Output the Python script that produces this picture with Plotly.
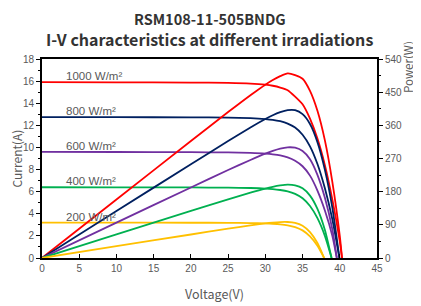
import plotly.graph_objects as go

irradiances = ["1000 W/m²", "800 W/m²", "600 W/m²", "400 W/m²", "200 W/m²"]
colors = ["#FF0000", "#002060", "#7030A0", "#00B050", "#FFC000"]

v_1000 = [0, 10, 20, 25, 28, 30, 31, 32, 33, 34, 35, 36, 37, 38, 39, 40, 40.3]
i_1000 = [15.9, 15.89, 15.87, 15.84, 15.78, 15.68, 15.58, 15.42, 15.18, 14.6, 13.9, 12.6, 10.8, 8.4, 5.3, 1.5, 0]
p_1000 = [0, 158.9, 317.4, 396, 441.8, 470.4, 483, 493.4, 500.9, 496.4, 486.5, 453.6, 399.6, 319.2, 206.7, 60, 0]

v_800 = [0, 10, 20, 25, 28, 30, 31, 32, 33, 34, 35, 36, 37, 38, 39, 39.95]
i_800 = [12.75, 12.74, 12.72, 12.7, 12.65, 12.57, 12.5, 12.37, 12.16, 11.8, 11.15, 10.1, 8.5, 6.3, 3.5, 0]
p_800 = [0, 127.4, 254.4, 317.5, 354.2, 377.1, 387.5, 395.8, 401.3, 401.2, 390.3, 363.6, 314.5, 239.4, 136.5, 0]

v_600 = [0, 10, 20, 25, 28, 30, 31, 32, 33, 34, 35, 36, 37, 38, 39, 39.6]
i_600 = [9.6, 9.59, 9.57, 9.55, 9.5, 9.44, 9.38, 9.28, 9.1, 8.8, 8.3, 7.45, 6.1, 4.3, 2.0, 0]
p_600 = [0, 95.9, 191.4, 238.8, 266, 283.2, 290.8, 297, 300.3, 299.2, 290.5, 268.2, 225.7, 163.4, 78, 0]

v_400 = [0, 10, 20, 25, 28, 30, 31, 32, 33, 34, 35, 36, 37, 38, 38.9]
i_400 = [6.4, 6.39, 6.38, 6.36, 6.33, 6.28, 6.23, 6.15, 6.03, 5.8, 5.4, 4.7, 3.6, 2.0, 0]
p_400 = [0, 63.9, 127.6, 159, 177.2, 188.4, 193.1, 196.8, 199, 197.2, 189, 169.2, 133.2, 76, 0]

v_200 = [0, 10, 20, 25, 28, 30, 31, 32, 33, 34, 35, 36, 37, 37.9]
i_200 = [3.2, 3.195, 3.19, 3.18, 3.16, 3.13, 3.1, 3.05, 2.96, 2.8, 2.5, 1.95, 1.1, 0]
p_200 = [0, 32, 63.8, 79.5, 88.5, 93.9, 96.1, 97.6, 97.7, 95.2, 87.5, 70.2, 40.7, 0]

series = [
    (v_1000, i_1000, p_1000),
    (v_800, i_800, p_800),
    (v_600, i_600, p_600),
    (v_400, i_400, p_400),
    (v_200, i_200, p_200),
]

x_ticks = list(range(0, 46, 5))
y_ticks = list(range(0, 19, 2))
p_ticks = list(range(0, 541, 90))

fig = go.Figure()
for (v, i, p), c, name in zip(series, colors, irradiances):
    fig.add_trace(go.Scatter(x=v, y=i, mode="lines", line=dict(color=c, width=1.8, shape="spline", smoothing=0.6),
                             name=name, showlegend=False))
    fig.add_trace(go.Scatter(x=v, y=p, mode="lines", line=dict(color=c, width=1.8, shape="spline", smoothing=0.6),
                             yaxis="y2", name=name + " P", showlegend=False))
    fig.add_annotation(x=3.0, y=i[0], text=name, showarrow=False, xanchor="left", yanchor="middle",
                       yshift=6, font=dict(family="Liberation Sans", size=11.5, color="#595959"))

title_font = dict(family="Noto Sans CJK SC", color="#333333")
fig.add_annotation(text="<b>RSM108-11-505BNDG</b>", xref="paper", yref="paper", x=0.5, y=1.0,
                   xanchor="center", yanchor="middle",
                   yshift=41, showarrow=False, font=dict(size=14.5, **title_font))
fig.add_annotation(text="<b>I-V characteristics at different irradiations</b>", xref="paper", yref="paper",
                   x=0.5, y=1.0, xanchor="center", yanchor="middle",
                   yshift=20, showarrow=False, font=dict(size=16, **title_font))

axis_title_font = dict(family="Noto Sans CJK SC", color="#595959")
fig.add_annotation(text="Voltage(V)", xref="paper", yref="paper", x=0.516, y=0, yshift=-35,
                   xanchor="center", yanchor="middle",
                   showarrow=False, font=dict(size=12.5, **axis_title_font))
fig.add_annotation(text="Current(A)", xref="paper", yref="paper", x=0, xshift=-26, y=0.5,
                   xanchor="center", yanchor="middle",
                   textangle=-90, showarrow=False, font=dict(size=12, **axis_title_font))
fig.add_annotation(text="Power(W)", xref="paper", yref="paper", x=1, xshift=31, y=0.96,
                   xanchor="center", yanchor="middle",
                   textangle=-90, showarrow=False, font=dict(size=11.5, **axis_title_font))

tickfont = dict(family="Liberation Sans", size=10, color="#595959")
fig.update_layout(
    width=413, height=298,
    margin=dict(l=34, r=44, t=51, b=48, autoexpand=False),
    paper_bgcolor="white", plot_bgcolor="white",
    xaxis=dict(range=[0, 45], tickvals=x_ticks, showgrid=False, zeroline=False, automargin=False,
               showline=True, linecolor="black", linewidth=2, mirror=True,
               ticks="inside", ticklen=4, tickcolor="black", tickfont=tickfont),
    yaxis=dict(range=[0, 18], tickvals=y_ticks, showgrid=False, zeroline=False, automargin=False,
               showline=True, linecolor="black", linewidth=2,
               ticks="outside", ticklen=4, tickcolor="black", tickfont=tickfont,
               minor=dict(dtick=1, ticks="outside", ticklen=2, tickcolor="black")),
    yaxis2=dict(range=[0, 540], tickvals=p_ticks, overlaying="y", side="right", showgrid=False, zeroline=False,
                automargin=False, showline=True, linecolor="black", linewidth=2,
                ticks="outside", ticklen=4, tickcolor="black", tickfont=tickfont,
                minor=dict(dtick=45, ticks="outside", ticklen=2, tickcolor="black")),
)

fig.write_html("out.html")
